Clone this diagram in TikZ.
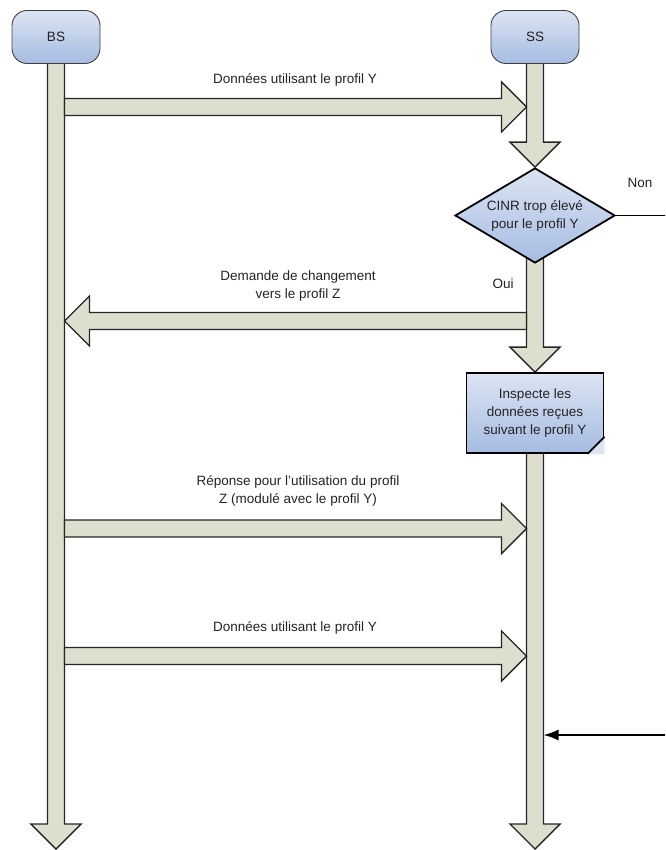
\documentclass[tikz,border=0pt]{standalone}
\usepackage{fontspec}
\setmainfont{Liberation Sans}
\usetikzlibrary{calc}
\usetikzlibrary{arrows.meta, backgrounds}
\usetikzlibrary{positioning, shapes}

\definecolor{shaftfill}{RGB}{221,222,205}
\definecolor{boxtop}{RGB}{220,228,243}
\definecolor{boxbottom}{RGB}{165,188,226}
\definecolor{labeltext}{RGB}{35,35,35}

\tikzset{
	entity/.style={
		draw=black!75,
		line width=0.9pt,
		rounded corners=15pt,
		minimum width=88pt,
		minimum height=53pt,
		top color=boxtop,
		bottom color=boxbottom,
		text=labeltext
	},
	decision/.style={
		diamond,
		draw,
		line width=1.8pt,
		aspect=1.68,
		inner sep=0pt,
		minimum width=160pt,
		minimum height=95pt,
		top color=boxtop,
		bottom color=boxbottom,
		align=center,
		text=labeltext
	},
	task/.style={
		draw,
		line width=1.8pt,
		minimum width=137pt,
		minimum height=80pt,
		top color=boxtop,
		bottom color=boxbottom,
		align=center,
		text=labeltext
	},
	msg/.style={align=center, text=labeltext},
	fat/.style={draw=black!85, line width=1.4pt, fill=shaftfill, line join=miter},
	jump/.style={draw=black, line width=1.6pt, -{Latex[length=15pt,width=11pt]}}
}

% wide arrow from #1 to #2, tip at #2
\newcommand{\fatarrow}[2]{
	\coordinate (fa-base) at ($(#2)!25pt!(#1)$);
	\draw[fat] ($(#1)!8.5pt!90:(#2)$) -- ($(fa-base)!8.5pt!90:(#2)$)
		-- ($(fa-base)!25pt!90:(#2)$) -- (#2)
		-- ($(fa-base)!25pt!-90:(#2)$) -- ($(fa-base)!8.5pt!-90:(#2)$)
		-- ($(#1)!8.5pt!-90:(#2)$) -- cycle;
}

\begin{document}
\begin{tikzpicture}[
		x=1pt, y=-1pt,
		font=\fontsize{13.5}{18}\selectfont,
	]

	% The canvas, same size as the picture
	\useasboundingbox (0,0) rectangle (665,850);

	% The two stations
	\node[entity] (bs) at (56,37) {BS};
	\node[entity] (ss) at (535,37) {SS};

	% Steps on the SS side
	\node[decision] (cinr) at (535,215.5) {CINR trop élevé\\pour le profil Y};
	\node[task] (inspect) at (535,413) {Inspecte les\\données reçues\\suivant le profil Y};
	\fill[boxtop] ($(inspect.south east)+(-17,0)$) -- ($(inspect.south east)+(0,-17)$)
		-- (inspect.south east) -- cycle;
	\draw[line width=1.8pt] ($(inspect.south east)+(-17,0)$) -- ($(inspect.south east)+(0,-17)$);

	% Ends of the lifelines and of the messages
	\coordinate (bs-end) at (56,849);
	\coordinate (ss-end) at (535,849);
	\coordinate (m1-from) at (64.5,107);
	\coordinate (m1-to) at (526.5,107);
	\coordinate (m2-from) at (526.5,321);
	\coordinate (m2-to) at (64.5,321);
	\coordinate (m3-from) at (64.5,528.5);
	\coordinate (m3-to) at (526.5,528.5);
	\coordinate (m4-from) at (64.5,656);
	\coordinate (m4-to) at (526.5,656);
	\coordinate (ss-in) at (543.5,735);

	\begin{scope}[on background layer]
		% Lifelines
		\fatarrow{bs.center}{bs-end}
		\fatarrow{ss.center}{cinr.north}
		\fatarrow{cinr.center}{inspect.north}
		\fatarrow{inspect.center}{ss-end}

		% Messages
		\fatarrow{m1-from}{m1-to}
		\fatarrow{m2-from}{m2-to}
		\fatarrow{m3-from}{m3-to}
		\fatarrow{m4-from}{m4-to}
	\end{scope}

	% Message texts
	\node[msg] (t1) at (295,80) {Données utilisant le profil Y};
	\node[msg] (t2) at (298,286) {Demande de changement\\vers le profil Z};
	\node[msg] (t3) at (298,491) {Réponse pour l’utilisation du profil\\Z (modulé avec le profil Y)};
	\node[msg] (t4) at (295,628) {Données utilisant le profil Y};

	\node[msg] (non) at (640,183) {Non};
	\node[msg] (oui) at (503,284) {Oui};

	% The "Non" branch leaves the canvas and comes back
	\begin{scope}
		\clip (0,0) rectangle (665,850);
		\draw[jump] (cinr.east) -- ++(70,0) |- (ss-in);
	\end{scope}

\end{tikzpicture}
\end{document}
